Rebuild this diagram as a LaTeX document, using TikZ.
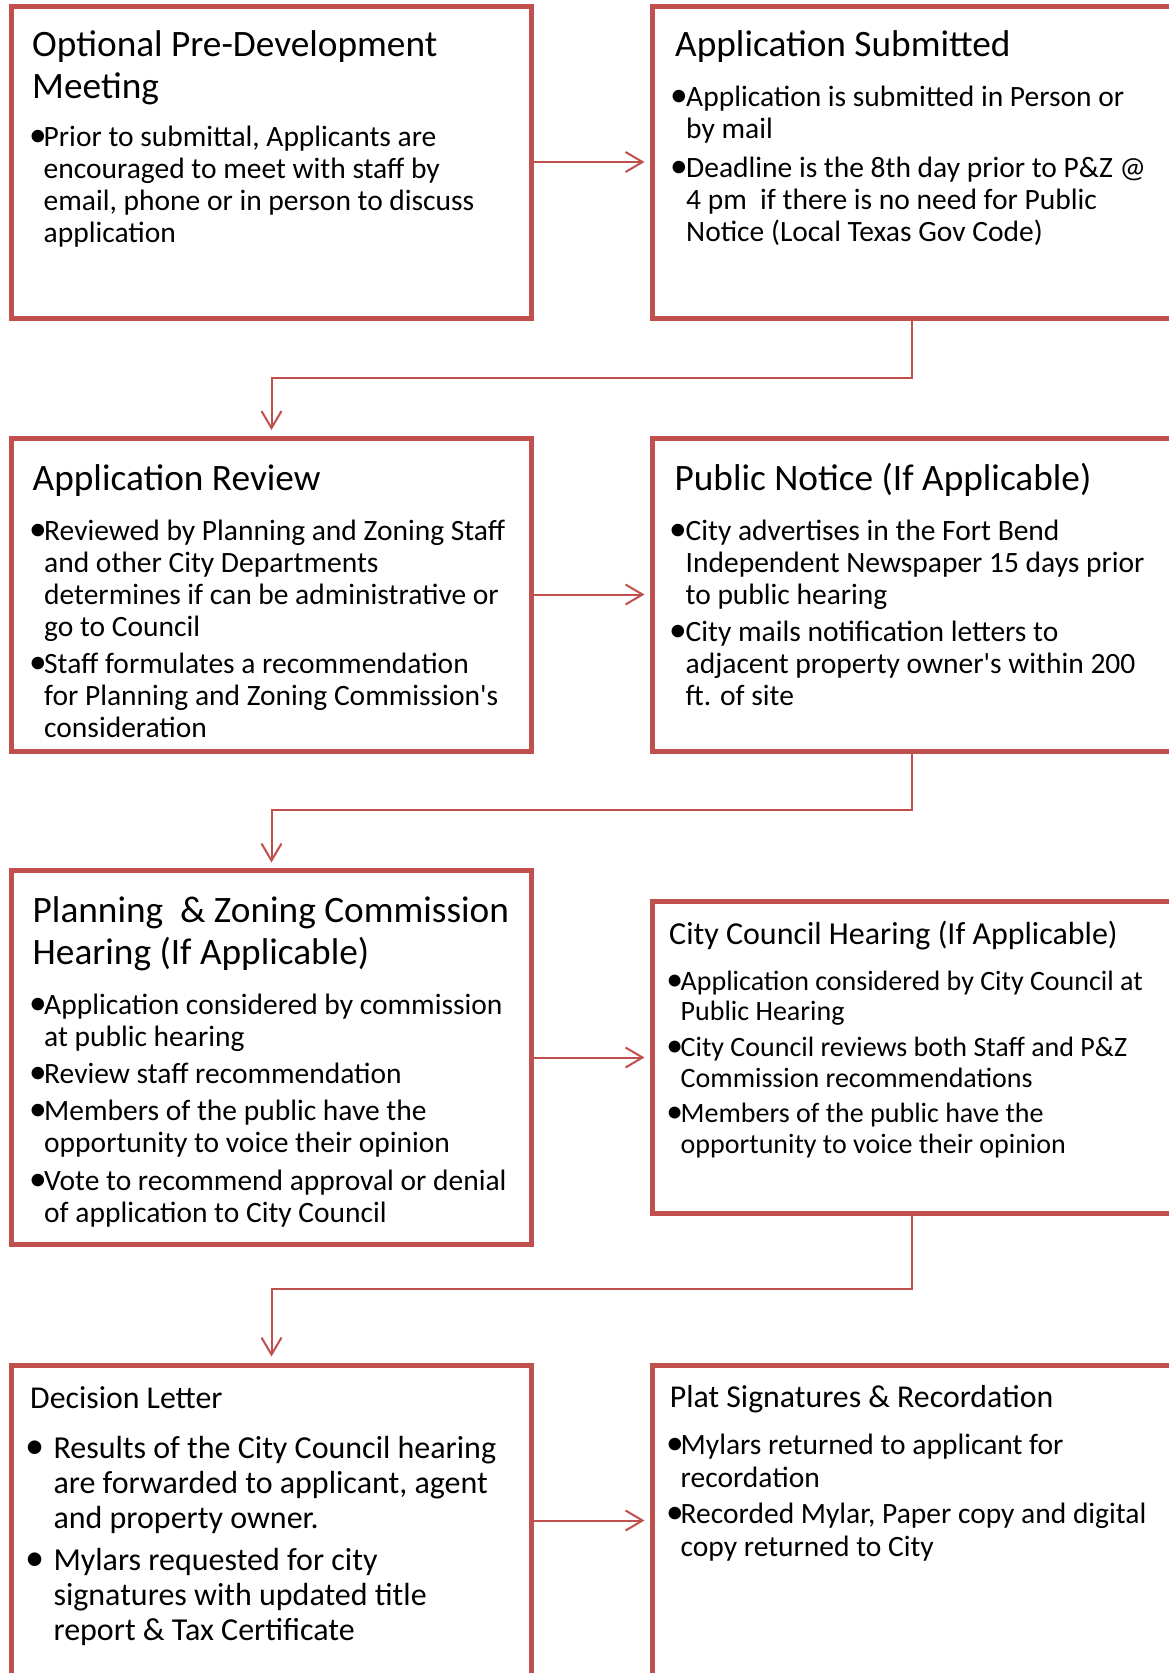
\documentclass[tikz,border=0pt]{standalone}
\usepackage{fontspec}
\setmainfont{Carlito}
\usetikzlibrary{arrows.meta}
\definecolor{boxred}{HTML}{C0504D}
\newlength\bulw
\newlength\bulc
\newcommand{\bi}[1]{\rlap{\makebox[\bulc][c]{\scalebox{1.2}{•}}}\hspace*{\bulw}#1}
\newcommand{\ci}[1]{\hspace*{\bulw}#1}
\newcommand{\btext}[3]{\setlength\bulc{#1}\setlength\bulw{#2}\begin{tabular}[t]{@{}l@{}}#3\end{tabular}}
\newcommand{\ttext}[1]{\begin{tabular}[t]{@{}l@{}}#1\end{tabular}}
\begin{document}
\begin{tikzpicture}[x=1pt,y=-1pt,
  box/.style={draw=boxred, line width=5pt, minimum width=520pt, inner sep=0pt},
  conn/.style={draw=boxred, line width=2pt, -{Straight Barb[length=17pt,width=20pt]}, shorten >=5pt},
  ttl/.style={anchor=base west, inner sep=0pt, font=\fontsize{37.3}{41.5}\selectfont},
  bdy/.style={anchor=base west, inner sep=0pt, font=\fontsize{29.5}{32}\selectfont}]
\useasboundingbox (0,0) rectangle (1169,1673);
\clip (0,0) rectangle (1169,1673);

% boxes
\node[box, minimum height=312pt] (A) at (271.5,162) {};
\node[box, minimum height=312pt] (B) at (912,162) {};
\node[box, minimum height=313pt] (C) at (271.5,594.5) {};
\node[box, minimum height=313pt] (D) at (912,594.5) {};
\node[box, minimum height=374pt] (E) at (271.5,1057.5) {};
\node[box, minimum height=312pt] (F) at (912,1057.6) {};
\node[box, minimum height=311pt] (G) at (271.5,1520.5) {};
\node[box, minimum height=311pt] (H) at (912,1520.5) {};

% turn points
\coordinate (t1) at (912,377.5);
\coordinate (t2) at (912,810);
\coordinate (t3) at (912,1289.3);

% connectors
\draw[conn] (A.east) -- (B.west);
\draw[conn] (C.east) -- (D.west);
\draw[conn] (E.east) -- (E.east -| F.west);
\draw[conn] (G.east) -- (H.west);
\draw[conn, shorten >=5.5pt] (B.south) -- (t1) -| (C.north);
\draw[conn, shorten >=5.5pt] (D.south) -- (t2) -| (E.north);
\draw[conn, shorten >=6pt] (F.south) -- (t3) -| (G.north);

% texts A
\node[ttl] (At) at (32,56.7) {\ttext{Optional Pre-Development\\Meeting}};
\node[bdy] (Ab) at (34,146.7) {\btext{7.7pt}{9.5pt}{%
\bi{Prior to submittal, Applicants are}\\
\ci{encouraged to meet with staff by}\\
\ci{email, phone or in person to discuss}\\
\ci{application}}};

% texts B
\node[ttl] (Bt) at (675,56.7) {\ttext{Application Submitted}};
\node[bdy] (Bb) at (675,106.7) {\btext{7.7pt}{11pt}{%
\bi{Application is submitted in Person or}\\
\ci{by mail}\\[6.5pt]
\bi{Deadline is the 8th day prior to P\&Z @}\\
\ci{4 pm\ \ if there is no need for Public}\\
\ci{Notice (Local Texas Gov Code)}}};

% texts C
\node[ttl] (Ct) at (32.5,490) {\ttext{Application Review}};
\node[bdy] (Cb) at (34,540) {\btext{7.7pt}{10pt}{%
\bi{Reviewed by Planning and Zoning Staff}\\
\ci{and other City Departments}\\
\ci{determines if can be administrative or}\\
\ci{go to Council}\\[5.6pt]
\bi{Staff formulates a recommendation}\\
\ci{for Planning and Zoning Commission\textquotesingle s}\\
\ci{consideration}}};

% texts D
\node[ttl] (Dt) at (674.4,490) {\ttext{Public Notice (If Applicable)}};
\node[bdy] (Db) at (674,540) {\btext{7.7pt}{11.5pt}{%
\bi{City advertises in the Fort Bend}\\
\ci{Independent Newspaper 15 days prior}\\
\ci{to public hearing}\\[5.7pt]
\bi{City mails notification letters to}\\
\ci{adjacent property owner\textquotesingle s within 200}\\
\ci{ft. of site}}};

% texts E
\node[ttl] (Et) at (32.5,922.7) {\ttext{Planning\ \ \& Zoning Commission\\Hearing (If Applicable)}};
\node[bdy] (Eb) at (34,1014) {\btext{7.7pt}{10pt}{%
\bi{Application considered by commission}\\
\ci{at public hearing}\\[5.7pt]
\bi{Review staff recommendation}\\[5pt]
\bi{Members of the public have the}\\
\ci{opportunity to voice their opinion}\\[5.7pt]
\bi{Vote to recommend approval or denial}\\
\ci{of application to City Council}}};

% texts F
\node[ttl, font=\fontsize{32}{36}\selectfont] (Ft) at (669,944) {\ttext{City Council Hearing (If Applicable)}};
\node[bdy, font=\fontsize{28}{30.7}\selectfont] (Fb) at (671,990) {\btext{7.3pt}{9.5pt}{%
\bi{Application considered by City Council at}\\
\ci{Public Hearing}\\[5pt]
\bi{City Council reviews both Staff and P\&Z}\\
\ci{Commission recommendations}\\[5pt]
\bi{Members of the public have the}\\
\ci{opportunity to voice their opinion}}};

% texts G
\node[ttl, font=\fontsize{31.8}{35}\selectfont] (Gt) at (30,1408.3) {\ttext{Decision Letter}};
\node[bdy, font=\fontsize{32}{35}\selectfont] (Gb) at (31,1458.3) {\btext{6.8pt}{22.3pt}{%
\bi{Results of the City Council hearing}\\
\ci{are forwarded to applicant, agent}\\
\ci{and property owner.}\\[6.7pt]
\bi{Mylars requested for city}\\
\ci{signatures with updated title}\\
\ci{report \& Tax Certificate}}};

% texts H
\node[ttl, font=\fontsize{31.8}{35}\selectfont] (Ht) at (669.7,1407.3) {\ttext{Plat Signatures \& Recordation}};
\node[bdy, font=\fontsize{29.5}{32.7}\selectfont] (Hb) at (671,1454.3) {\btext{7.7pt}{9.5pt}{%
\bi{Mylars returned to applicant for}\\
\ci{recordation}\\[4pt]
\bi{Recorded Mylar, Paper copy and digital}\\
\ci{copy returned to City}}};
\end{tikzpicture}
\end{document}
